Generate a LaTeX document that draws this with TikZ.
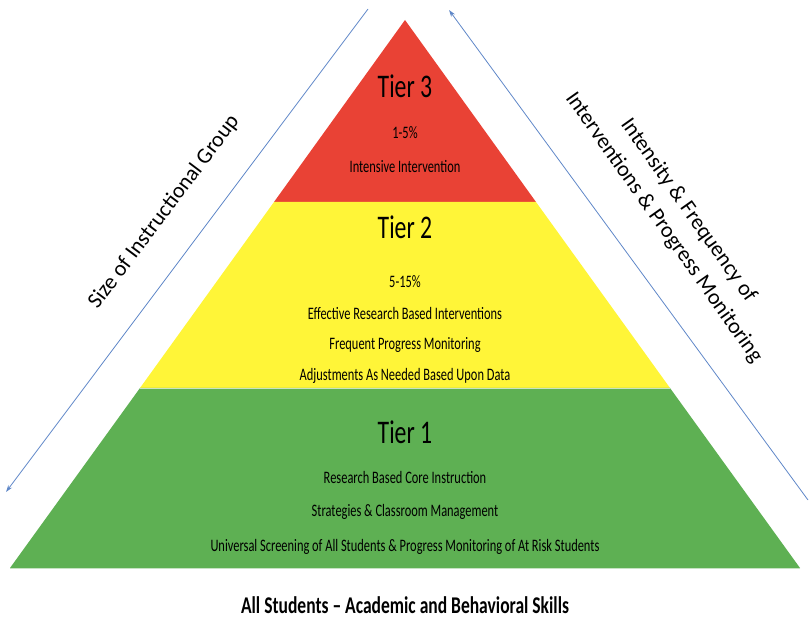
\documentclass[tikz,border=0pt]{standalone}
\usepackage{fontspec}
\setmainfont{Carlito}
\usetikzlibrary{arrows.meta,positioning}
\definecolor{tierred}{RGB}{233,66,53}
\definecolor{tieryellow}{RGB}{255,245,56}
\definecolor{tiergreen}{RGB}{94,176,83}
\definecolor{arrowblue}{RGB}{95,135,200}
\tikzset{
  tierhead/.style   = {font=\fontsize{33}{36}\selectfont, xscale=0.72, inner sep=0pt},
  tiertext/.style   = {font=\fontsize{17.5}{20}\selectfont, xscale=0.71, inner sep=0pt},
  sidelabel/.style  = {font=\fontsize{22}{30}\selectfont, align=center, inner sep=0pt},
  baselabel/.style  = {font=\bfseries\fontsize{24}{28}\selectfont, xscale=0.73, inner sep=0pt},
  guide arrow/.style= {-{Stealth[length=7pt,width=4.5pt]}, line width=0.8pt, arrowblue},
  tier edge/.style  = {line width=1pt, tiergreen!35},
}

\begin{document}
\begin{tikzpicture}[x=1pt,y=-1pt]
  \useasboundingbox (0,0) rectangle (812,620);

  % ---------------- pyramid ----------------------------------------------
  \fill[tierred]    (405,20) -- (274,202) -- (536,202) -- cycle;
  \fill[tieryellow] (274,202) -- (536,202) -- (670,388) -- (140,388) -- cycle;
  \fill[tiergreen]  (140,388) -- (670,388) -- (800,568) -- (10,568) -- cycle;
  \draw[tier edge] (140,388.5) -- (670,388.5);
  \draw[tier edge] (10,568) -- (800,568);

  % ---------------- tier 3 -----------------------------------------------
  \node[tierhead] (t3)  at (405,86)  {Tier 3};
  \node[tiertext] (t3a) at (405,133) {1-5\%};
  \node[tiertext] (t3b) at (405,167) {Intensive Intervention};

  % ---------------- tier 2 -----------------------------------------------
  \node[tierhead] (t2)  at (405,227) {Tier 2};
  \node[tiertext] (t2a) at (405,282) {5-15\%};
  \node[tiertext] (t2b) at (405,313) {Effective Research Based Interventions};
  \node[tiertext] (t2c) at (405,345) {Frequent Progress Monitoring};
  \node[tiertext] (t2d) at (405,376) {Adjustments As Needed Based Upon Data};

  % ---------------- tier 1 -----------------------------------------------
  \node[tierhead] (t1)  at (405,432) {Tier 1};
  \node[tiertext] (t1a) at (405,477) {Research Based Core Instruction};
  \node[tiertext] (t1b) at (405,512) {Strategies \& Classroom Management};
  \node[tiertext] (t1c) at (405,547) {Universal Screening of All Students \& Progress Monitoring of At Risk Students};

  \node[baselabel] (base) at (405,605) {All Students -- Academic and Behavioral Skills};

  % ---------------- side arrows ------------------------------------------
  \coordinate (ltop) at (368,9);
  \coordinate (lbot) at (6,492);
  \coordinate (rtop) at (449,10);
  \coordinate (rbot) at (808,500);
  \draw[guide arrow] (ltop) -- (lbot);
  \draw[guide arrow] (rbot) -- (rtop);

  \node[sidelabel,rotate=53]    (size)  at (164,212) {Size of Instructional Group};
  \node[sidelabel,rotate=-54.7] (inten) at (676,219) {Intensity \& Frequency of\\ Interventions \& Progress Monitoring};
\end{tikzpicture}
\end{document}
